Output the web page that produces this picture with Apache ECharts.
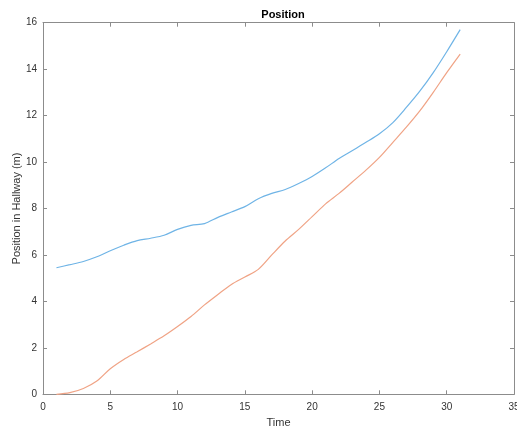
<!DOCTYPE html>
<html>
<head>
<meta charset="utf-8">
<script src="https://cdn.jsdelivr.net/npm/echarts@6/dist/echarts.min.js"></script>
<style>
html,body{margin:0;padding:0;background:#fff;}
#chart{width:517px;height:432px;}
</style>
</head>
<body>
<div id="chart"></div>
<script>
const times = [1,2,3,4,5,6,7,8,9,10,11,12,13,14,15,16,17,18,19,20,21,22,23,24,25,26,27,28,29,30,31];
const blueValues = [5.45,5.58,5.72,5.92,6.18,6.42,6.62,6.72,6.85,7.1,7.27,7.35,7.62,7.85,8.08,8.42,8.65,8.82,9.08,9.38,9.75,10.15,10.5,10.85,11.22,11.7,12.35,13.05,13.85,14.75,15.7];
const orangeValues = [0.0,0.07,0.25,0.57,1.1,1.5,1.83,2.17,2.52,2.92,3.35,3.85,4.3,4.73,5.05,5.38,6.0,6.6,7.1,7.65,8.2,8.65,9.15,9.65,10.2,10.85,11.5,12.2,13.0,13.85,14.65];

const font = 'Liberation Sans, Arial, Helvetica, sans-serif';
const axisGray = '#8c8c8c';
const labelColor = '#333333';

const chart = echarts.init(document.getElementById('chart'), null, {renderer:'canvas'});
const pair = (vals) => times.map((t,i)=>[t, vals[i]]);

chart.setOption({
  animation:false,
  backgroundColor:'#fff',
  title:{
    text:'Position',
    left:278, top:4, textAlign:'center',
    textStyle:{fontFamily:font,fontSize:11,fontWeight:'bold',color:'#000'}
  },
  grid:{left:43, right:3, top:22.7, bottom:37.7, containLabel:false, outerBoundsMode:'none'},
  xAxis:[{
    type:'value', min:0, max:35, interval:5,
    name:'Time', nameLocation:'middle', nameGap:23, nameMoveOverlap:false,
    nameTextStyle:{fontFamily:font,fontSize:11,color:labelColor},
    axisLine:{show:true,onZero:false,lineStyle:{color:axisGray,width:1}},
    axisTick:{show:true,inside:true,length:4,lineStyle:{color:axisGray}},
    axisLabel:{fontFamily:font,fontSize:10,color:labelColor,margin:8},
    splitLine:{show:false}
  },{
    type:'value', min:0, max:35, interval:5, position:'top',
    axisLine:{show:true,onZero:false,lineStyle:{color:axisGray,width:1}},
    axisTick:{show:true,inside:true,length:4,lineStyle:{color:axisGray}},
    axisLabel:{show:false}, splitLine:{show:false}
  }],
  yAxis:[{
    type:'value', min:0, max:16, interval:2,
    name:'Position in Hallway (m)', nameLocation:'middle', nameGap:21, nameMoveOverlap:false,
    nameTextStyle:{fontFamily:font,fontSize:11,color:labelColor},
    axisLine:{show:true,onZero:false,lineStyle:{color:axisGray,width:1}},
    axisTick:{show:true,inside:true,length:4,lineStyle:{color:axisGray}},
    axisLabel:{fontFamily:font,fontSize:10,color:labelColor,margin:6},
    splitLine:{show:false}
  },{
    type:'value', min:0, max:16, interval:2, position:'right',
    axisLine:{show:true,onZero:false,lineStyle:{color:axisGray,width:1}},
    axisTick:{show:true,inside:true,length:4,lineStyle:{color:axisGray}},
    axisLabel:{show:false}, splitLine:{show:false}
  }],
  series:[{
    type:'line', data:pair(blueValues), showSymbol:false, smooth:0.3,
    lineStyle:{color:'#6fb4e6',width:1.2}, itemStyle:{color:'#6fb4e6'}
  },{
    type:'line', data:pair(orangeValues), showSymbol:false, smooth:0.3,
    lineStyle:{color:'#f0a385',width:1.2}, itemStyle:{color:'#f0a385'}
  }]
});
</script>
</body>
</html>
